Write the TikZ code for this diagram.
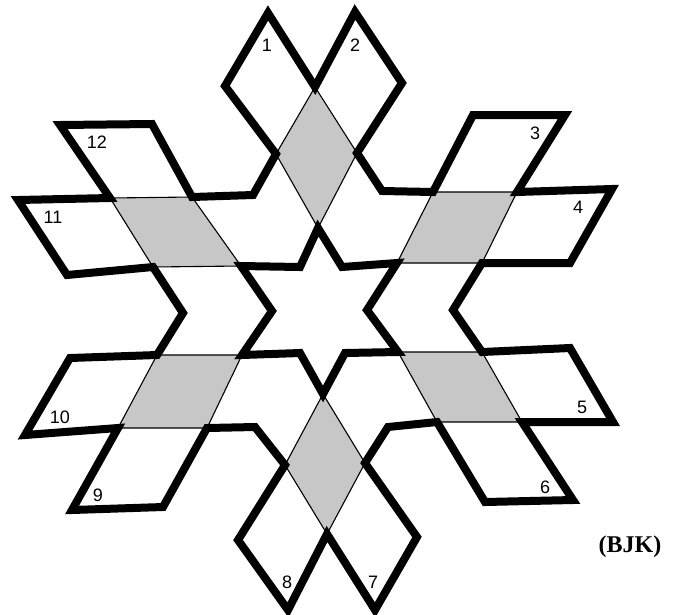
\documentclass[tikz,border=0pt]{standalone}
\usepackage{fontspec}
\setmainfont{Liberation Sans}
\newfontfamily\tagfont{Liberation Serif}

\begin{document}
\begin{tikzpicture}[
    x=1pt, y=-1pt,
    heavy/.style={line width=8pt, line join=miter, miter limit=4},
    fine/.style={line width=1.1pt, line join=miter},
    shaded/.style={fill=black!22},
    num/.style={font=\fontsize{18}{18}\selectfont, inner sep=0pt},
    tag/.style={font=\tagfont\bfseries\fontsize{24}{24}\selectfont, inner sep=0pt}
]
    \useasboundingbox (0,0) rectangle (684,614);

    % star in the middle
    \coordinate (st0) at (318,228); \coordinate (sc1) at (342,267);
    \coordinate (st1) at (397,263); \coordinate (sc2) at (367,310);
    \coordinate (st2) at (398,352); \coordinate (sc3) at (345,353);
    \coordinate (st3) at (323,394); \coordinate (sc4) at (300,353);
    \coordinate (st4) at (242,355); \coordinate (sc5) at (272,311);
    \coordinate (st5) at (241,266); \coordinate (sc0) at (300,267);

    % shaded rhombi
    \coordinate (tL) at (276,154); \coordinate (tO) at (315,87); \coordinate (tR) at (357,153);
    \coordinate (urA) at (433,192); \coordinate (urO) at (517,192); \coordinate (urB) at (482,263);
    \coordinate (lrA) at (482,352); \coordinate (lrO) at (522,422); \coordinate (lrB) at (437,422);
    \coordinate (bR) at (365,463); \coordinate (bO) at (327,534); \coordinate (bL) at (285,465);
    \coordinate (llA) at (207,428); \coordinate (llO) at (118,428); \coordinate (llB) at (157,355);
    \coordinate (ulA) at (153,267); \coordinate (ulO) at (110,198); \coordinate (ulB) at (192,197);

    % numbered rhombi, outer corners
    \coordinate (r1L) at (225,86);  \coordinate (r1T) at (268,13);
    \coordinate (r2T) at (355,12);  \coordinate (r2R) at (402,83);
    \coordinate (r3L) at (473,115); \coordinate (r3R) at (565,115);
    \coordinate (r4R) at (612,189); \coordinate (r4B) at (570,263);
    \coordinate (r5R) at (570,348); \coordinate (r5B) at (613,422);
    \coordinate (r6R) at (573,500); \coordinate (r6L) at (485,502);
    \coordinate (r7R) at (417,537); \coordinate (r7B) at (375,610);
    \coordinate (r8B) at (288,610); \coordinate (r8L) at (238,540);
    \coordinate (r9R) at (163,507); \coordinate (r9L) at (72,510);
    \coordinate (r10L) at (25,435); \coordinate (r10T) at (70,358);
    \coordinate (r11L) at (67,275); \coordinate (r11T) at (18,200);
    \coordinate (r12L) at (60,125); \coordinate (r12R) at (152,124);

    % notches between the arms
    \coordinate (nTR) at (382,191); \coordinate (nR) at (453,310);
    \coordinate (nBR) at (388,427); \coordinate (nBL) at (255,427);
    \coordinate (nL) at (183,313);  \coordinate (nTL) at (253,195);

    \draw[fine, shaded] (st0) -- (tL) -- (tO) -- (tR) -- cycle;
    \draw[fine, shaded] (st1) -- (urA) -- (urO) -- (urB) -- cycle;
    \draw[fine, shaded] (st2) -- (lrA) -- (lrO) -- (lrB) -- cycle;
    \draw[fine, shaded] (st3) -- (bR) -- (bO) -- (bL) -- cycle;
    \draw[fine, shaded] (st4) -- (llA) -- (llO) -- (llB) -- cycle;
    \draw[fine, shaded] (st5) -- (ulA) -- (ulO) -- (ulB) -- cycle;

    \draw[heavy] (st0) -- (sc1) -- (st1) -- (sc2) -- (st2) -- (sc3) -- (st3)
        -- (sc4) -- (st4) -- (sc5) -- (st5) -- (sc0) -- cycle;

    \draw[heavy] (tL) -- (r1L) -- (r1T) -- (tO) -- (r2T) -- (r2R) -- (tR)
        -- (nTR) -- (urA) -- (r3L) -- (r3R) -- (urO) -- (r4R) -- (r4B) -- (urB)
        -- (nR) -- (lrA) -- (r5R) -- (r5B) -- (lrO) -- (r6R) -- (r6L) -- (lrB)
        -- (nBR) -- (bR) -- (r7R) -- (r7B) -- (bO) -- (r8B) -- (r8L) -- (bL)
        -- (nBL) -- (llA) -- (r9R) -- (r9L) -- (llO) -- (r10L) -- (r10T) -- (llB)
        -- (nL) -- (ulA) -- (r11L) -- (r11T) -- (ulO) -- (r12L) -- (r12R) -- (ulB)
        -- (nTL) -- cycle;

    % labels
    \node[num] (n1) at (267,45) {1};
    \node[num] (n2) at (355,45) {2};
    \node[num] (n3) at (535,133) {3};
    \node[num] (n4) at (578,207) {4};
    \node[num] (n5) at (582,407) {5};
    \node[num] (n6) at (545,487) {6};
    \node[num] (n7) at (373,582) {7};
    \node[num] (n8) at (287,582) {8};
    \node[num] (n9) at (98,495) {9};
    \node[num] (n10) at (60,417) {10};
    \node[num] (n11) at (53,217) {11};
    \node[num] (n12) at (97,142) {12};
    \node[tag] (src) at (630,547) {(BJK)};
\end{tikzpicture}
\end{document}
